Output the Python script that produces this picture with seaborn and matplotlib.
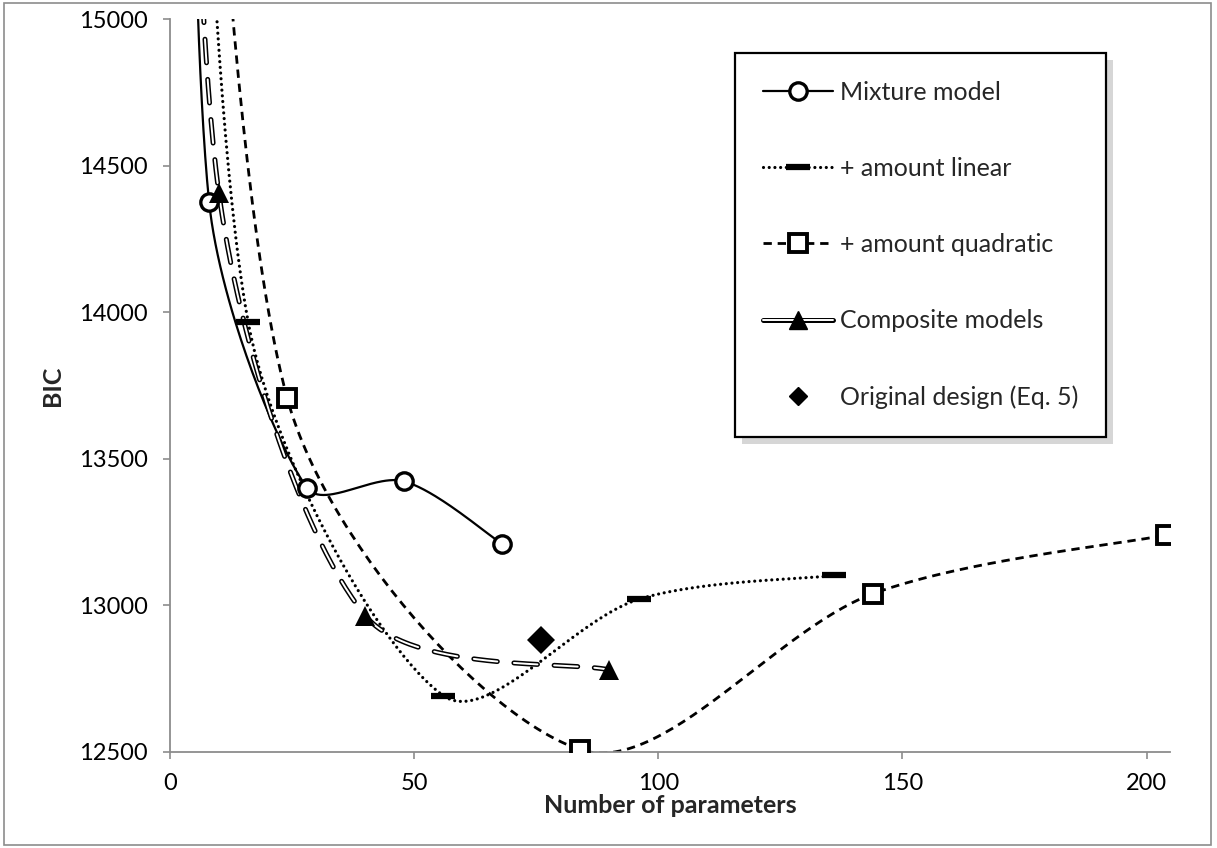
import numpy as np
import pandas as pd
import matplotlib
matplotlib.use("Agg")
import matplotlib.pyplot as plt
from matplotlib.lines import Line2D
from matplotlib.legend_handler import HandlerTuple
from matplotlib.patches import Rectangle
import seaborn as sns

# first point of every series lies above the visible range (BIC > 15000)
mix_x = [3, 8, 28, 48, 68]
mix_bic = [17500, 14377, 13402, 13423, 13210]
lin_x = [3, 16, 56, 96, 136]
lin_bic = [17500, 13967, 12692, 13021, 13102]
quad_x = [3, 24, 84, 144, 204]
quad_bic = [17500, 13707, 12508, 13040, 13240]
comp_x = [3, 10, 40, 90]
comp_bic = [17500, 14408, 12965, 12780]
orig_x = [76]
orig_bic = [12882]

labels = ["Mixture model", "+ amount linear", "+ amount quadratic",
          "Composite models", "Original design (Eq. 5)"]
x_ticks = [0, 50, 100, 150, 200]
y_ticks = [12500, 13000, 13500, 14000, 14500, 15000]

XLIM = (0, 204.8)
YLIM = (12500, 15000)
AX_W, AX_H = 1000, 733  # axes size in pixels


def smooth(xs, ys, n=60):
    # Excel-style smoothed line: Bezier segments, tangents damped by neighbour lengths
    sx = AX_W / (XLIM[1] - XLIM[0])
    sy = AX_H / (YLIM[1] - YLIM[0])
    p = np.column_stack([xs, ys]).astype(float)
    q = p * [sx, sy]
    ext = np.vstack([q[0], q, q[-1]])
    t = np.linspace(0, 1, n)[:, None]
    parts = []
    for i in range(len(q) - 1):
        p0, p1, p2, p3 = ext[i], ext[i + 1], ext[i + 2], ext[i + 3]
        d01 = np.hypot(*(p1 - p0))
        d12 = np.hypot(*(p2 - p1))
        d23 = np.hypot(*(p3 - p2))
        f1 = min(1.0, 2 * d12 / (d01 + d12)) / 6
        f2 = min(1.0, 2 * d12 / (d12 + d23)) / 6
        c1 = p1 + (p2 - p0) * f1
        c2 = p2 - (p3 - p1) * f2
        seg = (1 - t) ** 3 * p1 + 3 * (1 - t) ** 2 * t * c1 + 3 * (1 - t) * t ** 2 * c2 + t ** 3 * p2
        parts.append(seg if i == 0 else seg[1:])
    out = np.vstack(parts) / [sx, sy]
    return pd.DataFrame(out, columns=["x", "bic"])


sns.set_theme(style="white")
plt.rcParams["font.family"] = ["Lato", "DejaVu Sans"]
plt.rcParams["lines.scale_dashes"] = False

fig = plt.figure(figsize=(12.17, 8.48), dpi=100)
ax = fig.add_axes([170 / 1217, 1 - 752 / 848, AX_W / 1217, AX_H / 848])

common = dict(x="x", y="bic", sort=False, estimator=None, color="black", ax=ax)
sns.lineplot(data=smooth(mix_x, mix_bic), lw=1.6, **common)
sns.lineplot(data=smooth(lin_x, lin_bic), lw=2.3, linestyle=(0, (0.01, 4.1)),
             dash_capstyle="round", **common)
sns.lineplot(data=smooth(quad_x, quad_bic), lw=2.0, linestyle=(0, (6, 4.2)), **common)
comp = smooth(comp_x, comp_bic)
sns.lineplot(data=comp, lw=3.6, linestyle=(0, (17, 12)), dash_capstyle="round", **common)
sns.lineplot(data=comp, x="x", y="bic", sort=False, estimator=None, color="white",
             lw=1.4, linestyle=(0, (17, 12)), dash_capstyle="round", ax=ax)

ax.plot(mix_x, mix_bic, ls="none", marker="o", ms=12.5, mfc="white", mec="black", mew=2.4, zorder=5)
ax.plot(lin_x, lin_bic, ls="none", marker="_", ms=17, mec="black", mew=4.5, zorder=5)
ax.plot(quad_x, quad_bic, ls="none", marker="s", ms=13, mfc="white", mec="black", mew=2.8, zorder=5)
ax.plot(comp_x, comp_bic, ls="none", marker="^", ms=15, mfc="black", mec="black", mew=0, zorder=5)
ax.plot(orig_x, orig_bic, ls="none", marker="D", ms=14, mfc="black", mec="black", mew=0, zorder=5)

ax.set_xlim(*XLIM)
ax.set_ylim(*YLIM)
ax.set_xticks(x_ticks)
ax.set_yticks(y_ticks)
ax.set_xticklabels([str(v) for v in x_ticks])
ax.set_yticklabels([str(v) for v in y_ticks])
for side in ["top", "right"]:
    ax.spines[side].set_visible(False)
for side in ["left", "bottom"]:
    ax.spines[side].set_color("#8c8c8c")
    ax.spines[side].set_linewidth(1.3)
ax.tick_params(axis="both", which="major", direction="out", length=5, width=1.2,
               color="#8c8c8c", labelsize=17, labelcolor="black",
               left=True, bottom=True)
ax.tick_params(axis="y", pad=11)
ax.tick_params(axis="x", pad=10)
ax.set_xlabel("Number of parameters", fontsize=18, fontweight="bold", labelpad=0)
ax.set_ylabel("BIC", fontsize=18, fontweight="bold", labelpad=11)

h_mix = Line2D([], [], color="black", lw=1.6, marker="o", ms=12.5, mfc="white", mew=2.4)
h_lin = Line2D([], [], color="black", lw=2.3, linestyle=(0, (0.01, 4.1)),
               dash_capstyle="round", marker="_", ms=17, mew=4.5)
h_quad = Line2D([], [], color="black", lw=2.0, linestyle=(0, (6, 4.2)),
                marker="s", ms=13, mfc="white", mew=2.8)
h_comp = (Line2D([], [], color="black", lw=3.6),
          Line2D([], [], color="white", lw=1.4),
          Line2D([], [], ls="none", marker="^", ms=13, color="black"))
h_orig = Line2D([], [], ls="none", marker="D", ms=9, color="black")

leg = ax.legend([h_mix, h_lin, h_quad, h_comp, h_orig], labels,
                handler_map={tuple: HandlerTuple(ndivide=1)},
                loc="upper left", bbox_to_anchor=(735 / 1217, 1 - 53 / 848),
                bbox_transform=fig.transFigure, borderaxespad=0,
                fontsize=18, labelspacing=2.13, borderpad=1.1,
                handlelength=2.8, handletextpad=0.3, numpoints=1,
                fancybox=False, framealpha=1, edgecolor="black",
                shadow={"ox": 5, "oy": -5, "facecolor": "#d6d6d6", "edgecolor": "none", "alpha": 1})
leg.get_frame().set_linewidth(1.6)

fig.patches.append(Rectangle((4 / 1217, 3 / 848), 1207 / 1217, 842 / 848,
                             transform=fig.transFigure, fill=False,
                             edgecolor="#8c8c8c", lw=1.2))

fig.savefig("out.png", dpi=100, facecolor="white")
